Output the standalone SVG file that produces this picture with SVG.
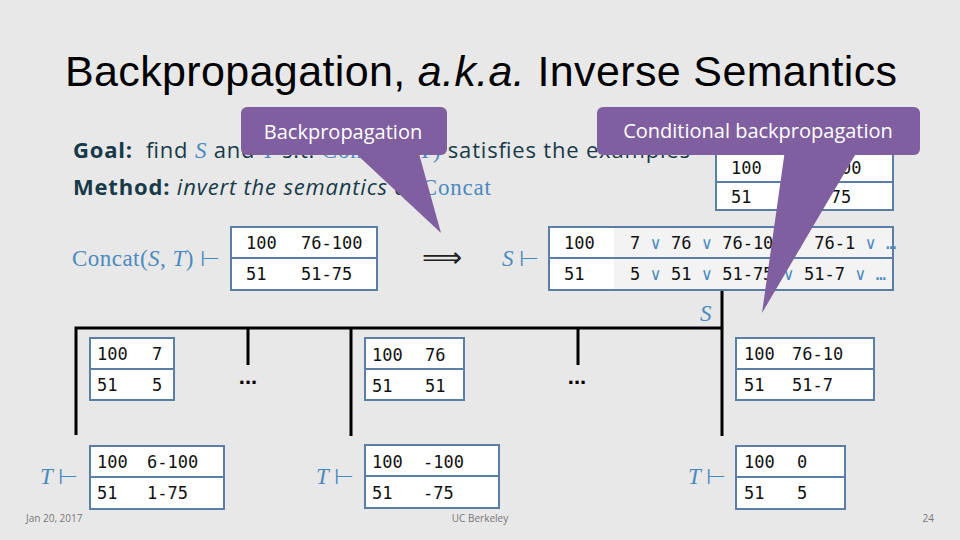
<svg xmlns="http://www.w3.org/2000/svg" width="960" height="540" viewBox="0 0 960 540">
<style>
.tb{fill:#fff;stroke:#5a7ea6;stroke-width:2}
.dv{stroke:#5a7ea6;stroke-width:2}
.m{font-family:"DejaVu Sans Mono","Liberation Mono",monospace;font-size:17px;fill:#111;white-space:pre}
.or{fill:#4a8ac0}
.bl{font-family:"Liberation Serif",serif;font-style:italic;font-size:23px;fill:#4a8ac0}
.bls{font-family:"Liberation Serif",serif;font-size:23px;fill:#4a8ac0}
.tx{font-family:"Open Sans","Liberation Sans",sans-serif;font-size:22px;fill:#173a48;white-space:pre}
.ln{stroke:#000;stroke-width:3;fill:none}
.co{fill:#7f5fa0}
.ct{font-family:"Open Sans","Liberation Sans",sans-serif;font-size:20px;fill:#fff}
.sm{font-family:"Open Sans","Liberation Sans",sans-serif;font-size:10px;fill:#777}
</style>
<rect width="960" height="540" fill="#e8e8e8"/>
<text x="481" y="86" text-anchor="middle" font-family="Liberation Sans,sans-serif" font-size="43" fill="#000" textLength="832">Backpropagation, <tspan font-style="italic">a.k.a.</tspan> Inverse Semantics</text>
<text class="tx" x="73" y="158" textLength="617"><tspan font-weight="bold">Goal:</tspan>  find <tspan class="bl">S</tspan> and <tspan class="bl">T</tspan> s.t. <tspan class="bls">Concat(</tspan><tspan class="bl">S</tspan><tspan class="bls">,</tspan><tspan class="bl">T</tspan><tspan class="bls">)</tspan> satisfies the examples</text>
<text class="tx" x="73" y="195" textLength="418"><tspan font-weight="bold">Method:</tspan> <tspan font-style="italic">invert the semantics of</tspan> <tspan class="bls">Concat</tspan></text>
<text class="bls" x="72" y="266" textLength="148">Concat(<tspan font-style="italic">S</tspan>, <tspan font-style="italic">T</tspan>) ⊢</text>
<text x="422" y="267" font-family="DejaVu Sans,sans-serif" font-size="28" fill="#222">⟹</text>
<text class="bl" x="502" y="266">S <tspan font-style="normal">⊢</tspan></text>
<text class="bl" x="700" y="321">S</text>
<text class="bl" x="40" y="484">T <tspan font-style="normal">⊢</tspan></text>
<text class="bl" x="316" y="484">T <tspan font-style="normal">⊢</tspan></text>
<text class="bl" x="688" y="484">T <tspan font-style="normal">⊢</tspan></text>
<g id="connectors">
<path class="ln" d="M76 435V328H722M722 290V436M248 328V365M351 328V436M578 328V365"/>
</g>
<text x="248" y="384" text-anchor="middle" font-family="Liberation Sans,sans-serif" font-size="22" font-weight="bold">...</text>
<text x="577" y="384" text-anchor="middle" font-family="Liberation Sans,sans-serif" font-size="22" font-weight="bold">...</text>
<g id="concat"><rect class="tb" x="231" y="227" width="146" height="63"/><line class="dv" x1="231" y1="258" x2="377" y2="258"/><text class="m" x="246" y="249">100</text><text class="m" x="301" y="249">76-100</text><text class="m" x="246" y="280">51</text><text class="m" x="301" y="280">51-75</text></g>
<g id="stable"><rect class="tb" x="549" y="227" width="344" height="63"/><rect x="614" y="228" width="278" height="61" fill="#f3f3f3"/><line class="dv" x1="549" y1="258" x2="893" y2="258"/><text class="m" x="564" y="249">100</text><text class="m" x="564" y="280">51</text><text class="m" x="630" y="249">7 <tspan class="or">∨</tspan> 76 <tspan class="or">∨</tspan> 76-100 <tspan class="or">∨</tspan> 76-1 <tspan class="or">∨ …</tspan></text><text class="m" x="630" y="280">5 <tspan class="or">∨</tspan> 51 <tspan class="or">∨</tspan> 51-75 <tspan class="or">∨</tspan> 51-7 <tspan class="or">∨ …</tspan></text></g>
<g id="example"><rect class="tb" x="716" y="153" width="177" height="57"/><line class="dv" x1="716" y1="182" x2="893" y2="182"/><text class="m" x="731" y="174">100</text><text class="m" x="800" y="174">76-100</text><text class="m" x="731" y="203">51</text><text class="m" x="800" y="203">51-75</text></g>
<g id="s1"><rect class="tb" x="90" y="338" width="84" height="62"/><line class="dv" x1="90" y1="369" x2="174" y2="369"/><text class="m" x="97" y="360">100</text><text class="m" x="152" y="360">7</text><text class="m" x="97" y="391">51</text><text class="m" x="152" y="391">5</text></g>
<g id="t1"><rect class="tb" x="90" y="446" width="134" height="63"/><line class="dv" x1="90" y1="477" x2="224" y2="477"/><text class="m" x="97" y="468">100</text><text class="m" x="147" y="468">6-100</text><text class="m" x="97" y="499">51</text><text class="m" x="147" y="499">1-75</text></g>
<g id="s2"><rect class="tb" x="365" y="338" width="99" height="62"/><line class="dv" x1="365" y1="369" x2="464" y2="369"/><text class="m" x="372" y="361">100</text><text class="m" x="425" y="361">76</text><text class="m" x="372" y="392">51</text><text class="m" x="425" y="392">51</text></g>
<g id="t2"><rect class="tb" x="365" y="445" width="134" height="63"/><line class="dv" x1="365" y1="476" x2="499" y2="476"/><text class="m" x="372" y="468">100</text><text class="m" x="423" y="468">-100</text><text class="m" x="372" y="499">51</text><text class="m" x="423" y="499">-75</text></g>
<g id="s3"><rect class="tb" x="736" y="338" width="138" height="62"/><line class="dv" x1="736" y1="369" x2="874" y2="369"/><text class="m" x="744" y="360">100</text><text class="m" x="792" y="360">76-10</text><text class="m" x="744" y="391">51</text><text class="m" x="792" y="391">51-7</text></g>
<g id="t3"><rect class="tb" x="736" y="446" width="109" height="63"/><line class="dv" x1="736" y1="477" x2="845" y2="477"/><text class="m" x="744" y="468">100</text><text class="m" x="797" y="468">0</text><text class="m" x="744" y="499">51</text><text class="m" x="797" y="499">5</text></g>
<g id="callout1"><rect class="co" x="241" y="107" width="206" height="48" rx="6"/><polygon class="co" points="352,150 418,150 441,233"/><text class="ct" x="343" y="139" text-anchor="middle">Backpropagation</text></g>
<g id="callout2"><rect class="co" x="597" y="107" width="323" height="48" rx="6"/><polygon class="co" points="785,150 858,150 762,313"/><text class="ct" x="758" y="138" text-anchor="middle">Conditional backpropagation</text></g>
<text class="sm" x="26" y="522">Jan 20, 2017</text>
<text class="sm" x="480" y="522" text-anchor="middle">UC Berkeley</text>
<text class="sm" x="934" y="522" text-anchor="end">24</text>
</svg>
